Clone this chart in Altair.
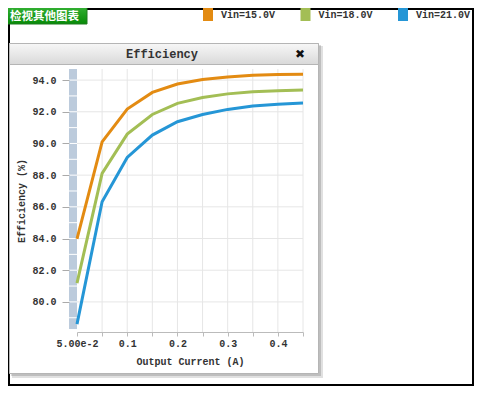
import altair as alt
import pandas as pd

# ---------------- data ----------------
current = [0.05, 0.075, 0.1, 0.15, 0.2, 0.25, 0.3, 0.35, 0.4, 0.45]
series = ["Vin=15.0V", "Vin=18.0V", "Vin=21.0V"]
eff_15 = [83.97, 90.10, 92.17, 93.22, 93.75, 94.04, 94.20, 94.31, 94.36, 94.37]
eff_18 = [81.18, 88.11, 90.59, 91.83, 92.53, 92.90, 93.13, 93.26, 93.32, 93.37]
eff_21 = [78.60, 86.32, 89.12, 90.53, 91.37, 91.83, 92.15, 92.36, 92.48, 92.55]
colors = ["#E38B12", "#A3BE55", "#2596D6"]
y_ticks = [80, 82, 84, 86, 88, 90, 92, 94]
band_lines = list(range(79, 95))
y_domain = [78.1, 94.7]
x_label_values = [0.05, 0.1, 0.2, 0.3, 0.4]
x_label_texts = ["5.00e-2", "0.1", "0.2", "0.3", "0.4"]

rows = []
for s, vals in zip(series, [eff_15, eff_18, eff_21]):
    for c, v in zip(current, vals):
        rows.append({"current": c, "series": s, "eff": v})
df = pd.DataFrame(rows)

W, H = 226, 263
FONT = "Liberation Mono"
TXT = "#333333"

label_expr = ""
for v, t in zip(x_label_values, x_label_texts):
    label_expr += f"datum.value == {v} ? '{t}' : "
label_expr += "''"

one = pd.DataFrame({"k": [0]})

x_axis = alt.Axis(title="Output Current (A)", labelExpr=label_expr,
                  labelAngle=0, tickSize=4, tickColor="#bbbbbb",
                  domainColor="#bbbbbb", labelPadding=2,
                  titlePadding=8, labelFont=FONT, labelFontSize=10,
                  labelFontWeight="bold", labelColor=TXT,
                  titleFont=FONT, titleFontSize=10,
                  titleFontWeight="bold", titleColor=TXT,
                  labelOverlap=False, grid=False, zindex=1)
y_axis = alt.Axis(title="Efficiency (%)", values=y_ticks, format=".1f",
                  offset=8, tickSize=7, tickColor="#aaaaaa",
                  domain=False, labelPadding=6, titlePadding=5,
                  labelFont=FONT, labelFontSize=10,
                  labelFontWeight="bold", labelColor=TXT,
                  titleFont=FONT, titleFontSize=10,
                  titleFontWeight="bold", titleColor=TXT,
                  labelOverlap=False, grid=False, zindex=1)
x_scale = alt.Scale(type="point", padding=0, domain=current)
y_scale = alt.Scale(domain=y_domain, nice=False, zero=False)

x_enc = alt.X("current:O", sort=current, scale=x_scale, axis=x_axis)
y_enc = alt.Y("eff:Q", scale=y_scale, axis=y_axis)

legend = alt.Legend(title=None, orient="none", direction="horizontal",
                    legendX=124.5, legendY=-61, padding=0,
                    symbolType="M-0.77,-1H0.77V1H-0.77Z",
                    symbolSize=169, symbolStrokeWidth=0, symbolOpacity=1,
                    labelOffset=6.5, columnPadding=23.5,
                    labelFont=FONT, labelFontSize=10,
                    labelFontWeight="bold", labelColor=TXT)
color_scale = alt.Scale(domain=series, range=colors)

# ---------------- decorations ----------------
outer = alt.Chart(one).mark_rect(fill="transparent", stroke="black", strokeWidth=2).encode(
    x=alt.value(-68), x2=alt.value(396), y=alt.value(-60), y2=alt.value(316))

button = alt.Chart(one).mark_rect(
    color=alt.Gradient(gradient="linear", x1=0, y1=0, x2=0, y2=1,
                       stops=[alt.GradientStop(color="#33b033", offset=0),
                              alt.GradientStop(color="#078a07", offset=1)]),
    stroke="#1f7a1f", strokeWidth=1).encode(
    x=alt.value(-70), x2=alt.value(10), y=alt.value(-62), y2=alt.value(-45))
button_txt = alt.Chart(one).mark_text(
    text="检视其他图表", font="Noto Sans CJK SC", fontSize=11.5, fontWeight="bold",
    color="white", align="left", baseline="middle").encode(
    x=alt.value(-67), y=alt.value(-52.5))

shadow1 = alt.Chart(one).mark_rect(color="#000000", opacity=0.12).encode(
    x=alt.value(-65), x2=alt.value(246), y=alt.value(-23), y2=alt.value(309))
shadow2 = alt.Chart(one).mark_rect(color="#000000", opacity=0.15).encode(
    x=alt.value(-66), x2=alt.value(244), y=alt.value(-24), y2=alt.value(307))
panel = alt.Chart(one).mark_rect(fill="white", stroke="#b5b5b5", strokeWidth=1).encode(
    x=alt.value(-67.5), x2=alt.value(241.5), y=alt.value(-25.5), y2=alt.value(304.5))
titlebar = alt.Chart(one).mark_rect(
    color=alt.Gradient(gradient="linear", x1=0, y1=0, x2=0, y2=1,
                       stops=[alt.GradientStop(color="#f7f7f7", offset=0),
                              alt.GradientStop(color="#d9d9d9", offset=1)]),
    stroke="#b5b5b5", strokeWidth=1).encode(
    x=alt.value(-67.5), x2=alt.value(241.5), y=alt.value(-25.5), y2=alt.value(-4.5))
title_txt = alt.Chart(one).mark_text(
    text="Efficiency", font=FONT, fontSize=12, fontWeight="bold", color=TXT,
    align="center", baseline="middle").encode(x=alt.value(85), y=alt.value(-15))
close_txt = alt.Chart(one).mark_text(
    text="✖", font="DejaVu Sans", fontSize=12, color="#111111",
    align="center", baseline="middle").encode(x=alt.value(223), y=alt.value(-15))

# grid
vgrid = alt.Chart(pd.DataFrame({"current": current[1:]})).mark_rule(
    color="#e6e6e6", strokeWidth=1).encode(
    x=alt.X("current:O", sort=current, scale=x_scale, axis=x_axis),
    y=alt.value(0), y2=alt.value(H))
hgrid = alt.Chart(pd.DataFrame({"eff": y_ticks})).mark_rule(
    color="#e6e6e6", strokeWidth=1).encode(
    y=alt.Y("eff:Q", scale=y_scale, axis=y_axis), x=alt.value(0), x2=alt.value(W))

band = alt.Chart(one).mark_rect(color="#bccbdc").encode(
    x=alt.value(-8), x2=alt.value(0), y=alt.value(0), y2=alt.value(H - 3))
band_ticks = alt.Chart(pd.DataFrame({"eff": band_lines})).mark_rule(
    color="white", strokeWidth=1).encode(
    y=alt.Y("eff:Q", scale=y_scale, axis=y_axis), x=alt.value(-8), x2=alt.value(0))

lines = alt.Chart(df).mark_line(strokeWidth=3).encode(
    x=x_enc, y=y_enc,
    color=alt.Color("series:N", scale=color_scale, legend=legend))
# invisible points: give the legend filled symbols
legend_pts = alt.Chart(df).mark_point(filled=True, size=0).encode(
    x=x_enc, y=y_enc,
    color=alt.Color("series:N", scale=color_scale, legend=legend))

chart = alt.layer(
    outer, button, button_txt, shadow1, shadow2, panel, titlebar, title_txt, close_txt,
    vgrid, hgrid, band, band_ticks, lines, legend_pts
).properties(
    width=W, height=H,
    autosize=alt.AutoSizeParams(type="none"),
    padding={"left": 69, "top": 61, "right": 171, "bottom": 54},
    background="white",
).configure_view(stroke=None).configure_axis(labelOverlap=False)

chart.save("out.html", embed_options={"renderer": "svg", "actions": False})
